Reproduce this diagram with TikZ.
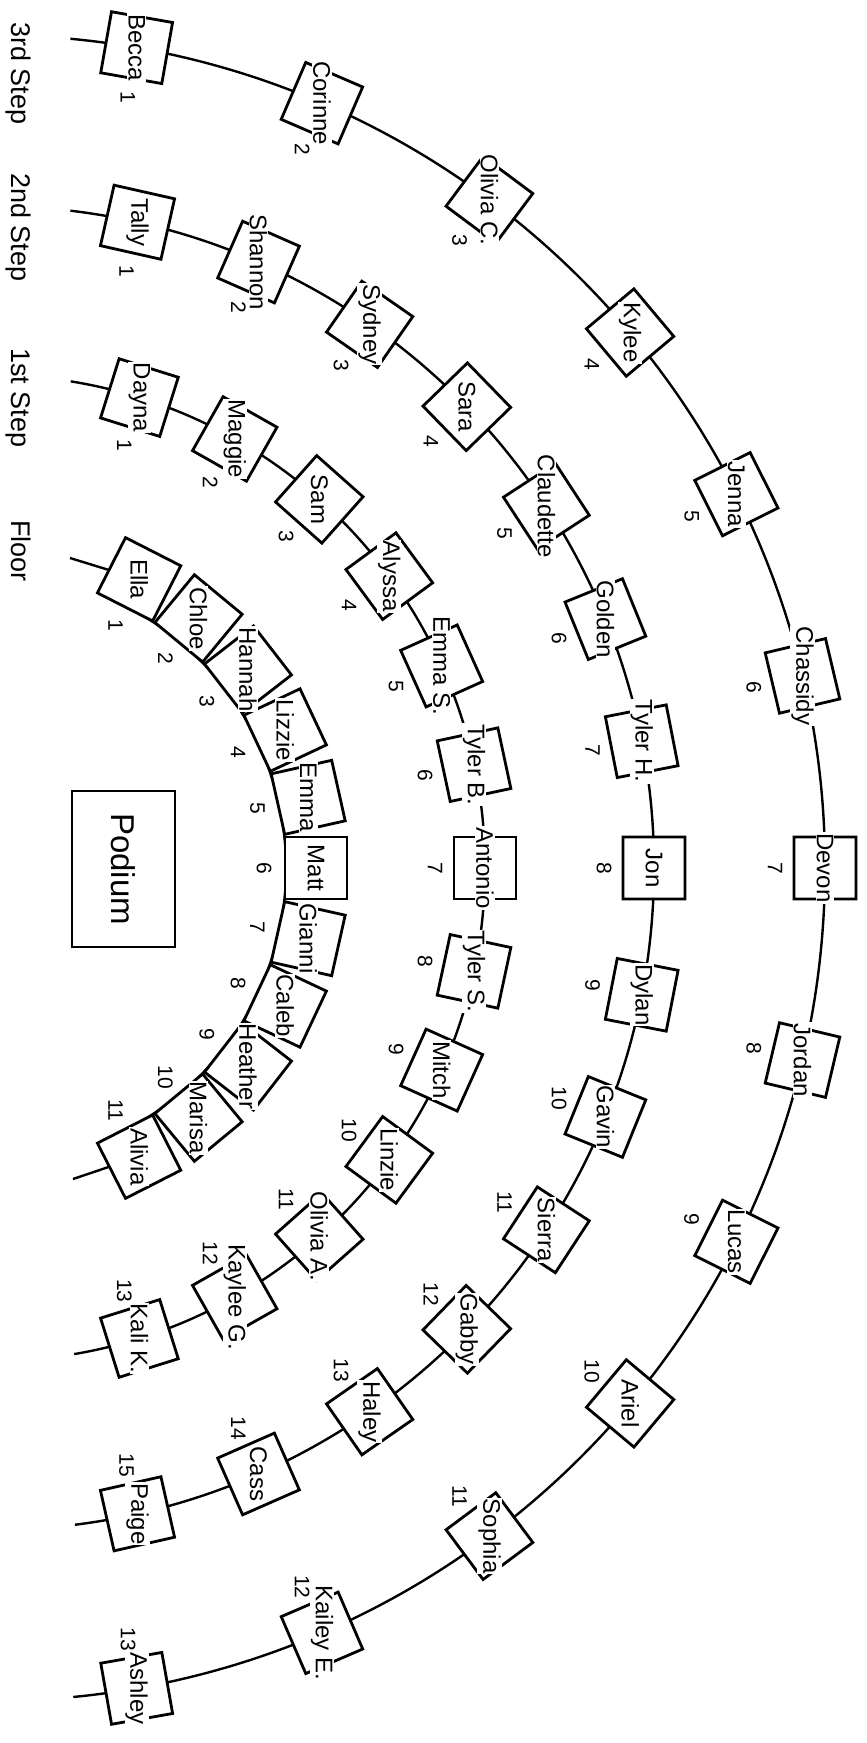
\documentclass[tikz,border=0pt]{standalone}
\usepackage{fontspec}
\setmainfont{Liberation Sans}
\usetikzlibrary{calc}

\tikzset{
  seat/.style={draw, line width=2.8pt, fill=white, minimum size=62pt, inner sep=0pt},
  who/.style={fill=white, inner sep=1pt, rotate=-90, font=\fontsize{24}{26}\selectfont},
  seatno/.style={inner sep=0pt, rotate=-90, font=\fontsize{21}{23}\selectfont},
  row/.style={line width=2.4pt},
  tier/.style={inner sep=0pt, rotate=-90, anchor=base west, font=\fontsize{27}{30}\selectfont},
}

\def\rowthree{Becca, Corinne, Olivia C., Kylee, Jenna, Chassidy, Devon, Jordan, Lucas, Ariel, Sophia, Kailey E., Ashley}
\def\rowtwo{Tally, Shannon, Sydney, Sara, Claudette, Golden, Tyler H., Jon, Dylan, Gavin, Sierra, Gabby, Haley, Cass, Paige}
\def\rowone{Dayna, Maggie, Sam, Alyssa, Emma S., Tyler B., Antonio, Tyler S., Mitch, Linzie, Olivia A., Kaylee G., Kali K.}
\def\rowfloor{Ella, Chloe, Hannah, Lizzie, Emma, Matt, Gianni, Caleb, Heather, Marisa, Alivia}

\begin{document}
\begin{tikzpicture}[x=1pt, y=1pt]

    \useasboundingbox (0,0) rectangle (867,-1743);

    %% Centre of the rows
    \coordinate (C) at (-8,-868);

    %% --- Rows ---
    \draw[row] ($(C)+(84.6:833)$) arc[start angle=84.6, end angle=-84.4, radius=833];
    \draw[row] ($(C)+(83.2:662)$) arc[start angle=83.2, end angle=-82.8, radius=662];
    \draw[row] ($(C)+(80.8:493)$) arc[start angle=80.8, end angle=-80.4, radius=493];
    \draw[row] ($(C)+(63:294)$) arc[start angle=63, end angle=-63, radius=294];

    %% --- Seats ---
    \foreach \n [count=\i] in \rowthree {
        \pgfmathsetmacro\a{80-(\i-1)*13.333}
        \node[seat, rotate=\a] (t-\i) at ($(C)+(\a:833)$) {};
        \node[seatno] at ($(C)+(\a:783)$) {\i};
    }
    \foreach \n [count=\i] in \rowtwo {
        \pgfmathsetmacro\a{77.3-(\i-1)*11.043}
        \node[seat, rotate=\a] (s-\i) at ($(C)+(\a:662)$) {};
        \node[seatno] at ($(C)+(\a:612)$) {\i};
    }
    \foreach \n [count=\i] in \rowone {
        \pgfmathsetmacro\a{72.6-(\i-1)*12.1}
        \node[seat, rotate=\a] (o-\i) at ($(C)+(\a:493)$) {};
        \node[seatno] at ($(C)+(\a:443)$) {\i};
    }
    \foreach \n [count=\i] in \rowfloor {
        \pgfmathsetmacro\a{63-(\i-1)*12.6}
        \node[seat, rotate=\a] (f-\i) at ($(C)+(\a:324)$) {};
        \node[seatno] at ($(C)+(\a:272)$) {\i};
    }

    %% Floor lead-in and lead-out
    \coordinate (fin) at (70,-558);
    \coordinate (fout) at (73,-1179);
    \draw[row] (fin) -- (f-1);
    \draw[row] (fout) -- (f-11);

    %% --- Names ---
    \foreach \n [count=\i] in \rowthree {\node[who] at (t-\i) {\n};}
    \foreach \n [count=\i] in \rowtwo {\node[who] at (s-\i) {\n};}
    \foreach \n [count=\i] in \rowone {\node[who] at (o-\i) {\n};}
    \foreach \n [count=\i] in \rowfloor {\node[who] at (f-\i) {\n};}

    %% --- Podium ---
    \node[draw, line width=2.8pt, rotate=-90, minimum width=156pt, minimum height=103pt,
          font=\fontsize{33}{36}\selectfont] (podium) at (123.5,-869) {Podium};

    %% Labels
    \node[tier] (l3) at (12,-22) {3rd Step};
    \node[tier] (l2) at (12,-173) {2nd Step};
    \node[tier] (l1) at (12,-348) {1st Step};
    \node[tier] (l0) at (12,-520) {Floor};

\end{tikzpicture}
\end{document}
